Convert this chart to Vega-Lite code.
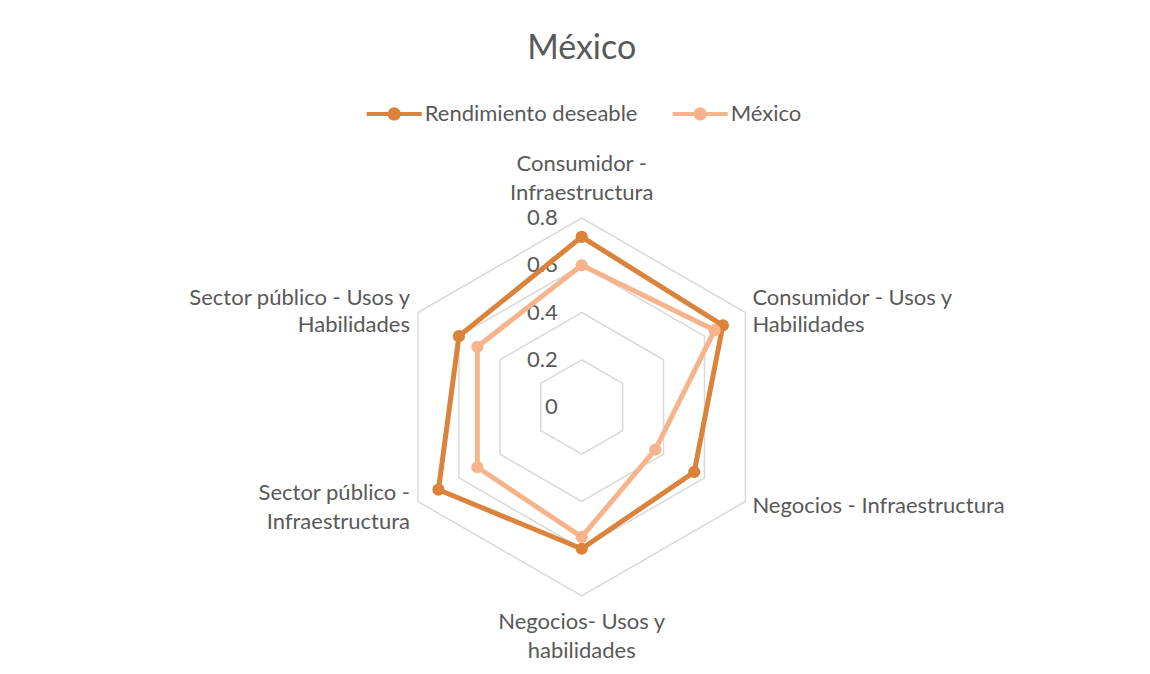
{
  "$schema": "https://vega.github.io/schema/vega-lite/v6.json",
  "autosize": "none",
  "width": 378,
  "height": 378,
  "padding": {"left": 392.7, "top": 218, "right": 379.3, "bottom": 78},
  "background": "white",
  "config": {"view": {"stroke": null}, "font": "Lato"},
  "title": {"text": "México", "fontSize": 34, "font": "Lato", "color": "#595959", "fontWeight": "normal", "anchor": "middle", "frame": "group", "offset": 18},
  "datasets": {
    "values": [
      {"axis": "Consumidor - Infraestructura", "i": 0, "series": "Rendimiento deseable", "value": 0.72},
      {"axis": "Consumidor - Usos y Habilidades", "i": 1, "series": "Rendimiento deseable", "value": 0.69},
      {"axis": "Negocios - Infraestructura", "i": 2, "series": "Rendimiento deseable", "value": 0.55},
      {"axis": "Negocios- Usos y habilidades", "i": 3, "series": "Rendimiento deseable", "value": 0.60},
      {"axis": "Sector público - Infraestructura", "i": 4, "series": "Rendimiento deseable", "value": 0.70},
      {"axis": "Sector público - Usos y Habilidades", "i": 5, "series": "Rendimiento deseable", "value": 0.60},
      {"axis": "Consumidor - Infraestructura", "i": 0, "series": "México", "value": 0.60},
      {"axis": "Consumidor - Usos y Habilidades", "i": 1, "series": "México", "value": 0.65},
      {"axis": "Negocios - Infraestructura", "i": 2, "series": "México", "value": 0.36},
      {"axis": "Negocios- Usos y habilidades", "i": 3, "series": "México", "value": 0.55},
      {"axis": "Sector público - Infraestructura", "i": 4, "series": "México", "value": 0.51},
      {"axis": "Sector público - Usos y Habilidades", "i": 5, "series": "México", "value": 0.51}
    ],
    "axes": [
      {"i": 0, "label": ["Consumidor -", "Infraestructura"]},
      {"i": 1, "label": ["Consumidor - Usos y", "Habilidades"]},
      {"i": 2, "label": ["Negocios - Infraestructura"]},
      {"i": 3, "label": ["Negocios- Usos y", "habilidades"]},
      {"i": 4, "label": ["Sector público -", "Infraestructura"]},
      {"i": 5, "label": ["Sector público - Usos y", "Habilidades"]}
    ],
    "rings": [
      {"ring": 0.2, "i": [0, 1, 2, 3, 4, 5]},
      {"ring": 0.4, "i": [0, 1, 2, 3, 4, 5]},
      {"ring": 0.6, "i": [0, 1, 2, 3, 4, 5]},
      {"ring": 0.8, "i": [0, 1, 2, 3, 4, 5]}
    ],
    "ticks": [{"tick": 0}, {"tick": 0.2}, {"tick": 0.4}, {"tick": 0.6}, {"tick": 0.8}]
  },
  "layer": [
    {
      "data": {"name": "rings"},
      "transform": [
        {"flatten": ["i"]},
        {"calculate": "datum.ring * sin(datum.i * PI / 3)", "as": "x"},
        {"calculate": "datum.ring * cos(datum.i * PI / 3)", "as": "y"}
      ],
      "mark": {"type": "line", "interpolate": "linear-closed", "stroke": "#D9D9D9", "strokeWidth": 1.5},
      "encoding": {
        "x": {"field": "x", "type": "quantitative", "scale": {"domain": [-0.8, 0.8], "nice": false, "zero": false}, "axis": null},
        "y": {"field": "y", "type": "quantitative", "scale": {"domain": [-0.8, 0.8], "nice": false, "zero": false}, "axis": null},
        "detail": {"field": "ring"},
        "order": {"field": "i", "type": "quantitative"}
      }
    },
    {
      "data": {"name": "ticks"},
      "transform": [{"calculate": "0", "as": "x"}],
      "mark": {"type": "text", "align": "right", "baseline": "middle", "dx": -24, "fontSize": 22, "color": "#595959"},
      "encoding": {
        "x": {"field": "x", "type": "quantitative"},
        "y": {"field": "tick", "type": "quantitative"},
        "text": {"field": "tick", "type": "quantitative", "format": ".1~f"}
      }
    },
    {
      "data": {"name": "axes"},
      "transform": [
        {"calculate": "0.8 * sin(datum.i * PI / 3)", "as": "x"},
        {"calculate": "0.8 * cos(datum.i * PI / 3)", "as": "y"}
      ],
      "layer": [
        {
          "transform": [{"filter": "datum.i == 0"}],
          "mark": {"type": "text", "align": "center", "baseline": "bottom", "dy": -42, "fontSize": 22, "color": "#595959", "lineHeight": 29}
        },
        {
          "transform": [{"filter": "datum.i == 3"}],
          "mark": {"type": "text", "align": "center", "baseline": "top", "dy": 16, "fontSize": 22, "color": "#595959", "lineHeight": 29}
        },
        {
          "transform": [{"filter": "datum.i == 1"}],
          "mark": {"type": "text", "align": "left", "baseline": "middle", "dx": 7, "dy": -15, "fontSize": 22, "color": "#595959", "lineHeight": 27}
        },
        {
          "transform": [{"filter": "datum.i == 2"}],
          "mark": {"type": "text", "align": "left", "baseline": "middle", "dx": 7, "dy": 4, "fontSize": 22, "color": "#595959", "lineHeight": 27}
        },
        {
          "transform": [{"filter": "datum.i == 4"}],
          "mark": {"type": "text", "align": "right", "baseline": "middle", "dx": -8, "dy": -9, "fontSize": 22, "color": "#595959", "lineHeight": 29}
        },
        {
          "transform": [{"filter": "datum.i == 5"}],
          "mark": {"type": "text", "align": "right", "baseline": "middle", "dx": -8, "dy": -15, "fontSize": 22, "color": "#595959", "lineHeight": 27}
        }
      ],
      "encoding": {
        "x": {"field": "x", "type": "quantitative"},
        "y": {"field": "y", "type": "quantitative"},
        "text": {"field": "label"}
      }
    },
    {
      "data": {"name": "values"},
      "transform": [
        {"calculate": "datum.value * sin(datum.i * PI / 3)", "as": "x"},
        {"calculate": "datum.value * cos(datum.i * PI / 3)", "as": "y"}
      ],
      "encoding": {
        "x": {"field": "x", "type": "quantitative"},
        "y": {"field": "y", "type": "quantitative"},
        "order": {"field": "i", "type": "quantitative"},
        "color": {
          "field": "series", "type": "nominal",
          "scale": {"domain": ["Rendimiento deseable", "México"], "range": ["#DB823B", "#F7B38C"]},
          "legend": {
            "orient": "none", "legendX": -28, "legendY": -134, "direction": "horizontal", "title": null,
            "symbolType": "M-1,0L1,0M0.17,0A0.17,0.17,0,1,1,-0.17,0A0.17,0.17,0,1,1,0.17,0Z",
            "symbolSize": 3025, "symbolStrokeWidth": 4, "symbolOpacity": 1,
            "labelFontSize": 22, "labelFont": "Lato", "labelColor": "#595959", "labelOffset": 1, "columnPadding": 27, "labelLimit": 400,
            "encode": {"symbols": {"update": {"stroke": {"scale": "color", "field": "value"}, "fill": {"scale": "color", "field": "value"}}}}
          }
        }
      },
      "layer": [
        {"mark": {"type": "line", "strokeWidth": 5, "interpolate": "linear-closed"}},
        {"mark": {"type": "point", "filled": true, "opacity": 1, "size": 150}}
      ]
    }
  ]
}
